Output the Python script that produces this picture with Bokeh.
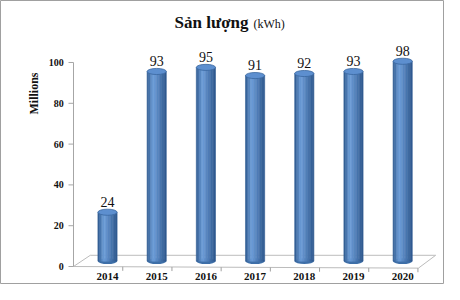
import math
from bokeh.plotting import figure
from bokeh.models import ColumnDataSource
from bokeh.embed import file_html
from bokeh.resources import INLINE
from bokeh.core.properties import value

years = ["2014", "2015", "2016", "2017", "2018", "2019", "2020"]
values = [24, 93, 95, 91, 92, 93, 98]
y_ticks = [0, 20, 40, 60, 80, 100]
tick_labels = ["0", "20", "40", "60", "80", "100"]

idx = list(range(len(years)))
depth = 2.6      # 3D offset of bars above the floor front
bar_w = 0.39
ax_x = -0.691    # position of the value axis (left wall edge)

SERIF = value("Liberation Serif")

p = figure(width=444, height=284, output_backend="svg", toolbar_location=None,
           x_range=(-2.175, 6.850), y_range=(-8.82, 130.39),
           x_axis_location=None, y_axis_location=None,
           min_border=0, min_border_left=0, min_border_right=0,
           min_border_top=0, min_border_bottom=0)
p.outline_line_color = "#a0a0a0"
p.outline_line_width = 1
p.xgrid.visible = False
p.ygrid.visible = False
p.background_fill_color = "white"
p.border_fill_color = "white"

# floor
floor_x = [ax_x, 6.32, 6.67, -0.35]
floor_y = [0, -0.8, 5.5, 5.5]
p.patch(floor_x, floor_y, fill_color="white", line_color="#bcbcbc", line_width=1)
tx = [i + 0.31 for i in idx]
ty = [-0.8 * (t - ax_x) / (6.32 - ax_x) for t in tx]
p.segment(x0=tx, y0=ty, x1=tx, y1=[t - 2.0 for t in ty], line_color="#a0a0a0", line_width=1)

# value axis
p.segment(x0=[ax_x], y0=[0], x1=[ax_x], y1=[100], line_color="#a6a6a6", line_width=1)
p.segment(x0=[ax_x - 0.102] * len(y_ticks), y0=y_ticks, x1=[ax_x] * len(y_ticks), y1=y_ticks,
          line_color="#a6a6a6", line_width=1)
tsrc = ColumnDataSource(dict(x=[ax_x - 0.2] * len(y_ticks), y=y_ticks, t=tick_labels))
p.text(x="x", y="y", text="t", source=tsrc, text_align="right", text_baseline="middle",
       text_font=SERIF, text_font_size="10px", text_font_style="bold", text_color="#111111")

# cylinders via shaded strips
def mix(c1, c2, t):
    return "#%02x%02x%02x" % tuple(int(round(a + (b - a) * t)) for a, b in zip(c1, c2))

dark = (0x2c, 0x57, 0x8c)
light = (0x6f, 0x9f, 0xda)

n = 12
sw = bar_w / n
bot = [depth for _ in values]
tops = [v + depth for v in values]

p.ellipse(x=idx, y=bot, width=bar_w, height=2.8, fill_color="#3e6fa8", line_color=None)
for k in range(n):
    t = (k + 0.5) / n
    if t < 0.33:
        c = mix(dark, light, t / 0.33)
    else:
        c = mix(light, dark, (t - 0.33) / 0.67)
    off = -bar_w / 2 + sw * (k + 0.5)
    p.vbar(x=[i + off for i in idx], width=sw, bottom=bot, top=tops,
           fill_color=c, line_color=c, line_width=0.6)
p.ellipse(x=idx, y=tops, width=bar_w, height=3.0, fill_color="#5d8fcf",
          line_color="#3a679f", line_width=0.8)

# value labels
src = ColumnDataSource(dict(x=idx, y=[v + depth + 2.6 for v in values],
                            t=[str(v) for v in values]))
p.text(x="x", y="y", text="t", source=src, text_align="center", text_baseline="bottom",
       text_font=SERIF, text_font_size="14px", text_color="#111111")

# year labels
ysrc = ColumnDataSource(dict(x=idx, y=[-5.0 for _ in idx], t=years))
p.text(x="x", y="y", text="t", source=ysrc, text_align="center", text_baseline="middle",
       text_font=SERIF, text_font_size="11px", text_font_style="bold", text_color="#111111")

# "Millions" axis title
p.text(x=[-1.504], y=[84.8], text=["Millions"], angle=math.pi / 2,
       text_align="center", text_baseline="middle", text_font=SERIF,
       text_font_size="12px", text_font_style="bold", text_color="#111111")

# chart title
p.text(x=[2.866], y=[119.6], text=["Sản lượng"], text_align="right", text_baseline="middle",
       text_font=SERIF, text_font_size="17px", text_font_style="bold", text_color="#111111")
p.text(x=[2.967], y=[119.1], text=["(kWh)"], text_align="left", text_baseline="middle",
       text_font=SERIF, text_font_size="12px", text_color="#111111")

open("out.html", "w").write(file_html(p, INLINE))
